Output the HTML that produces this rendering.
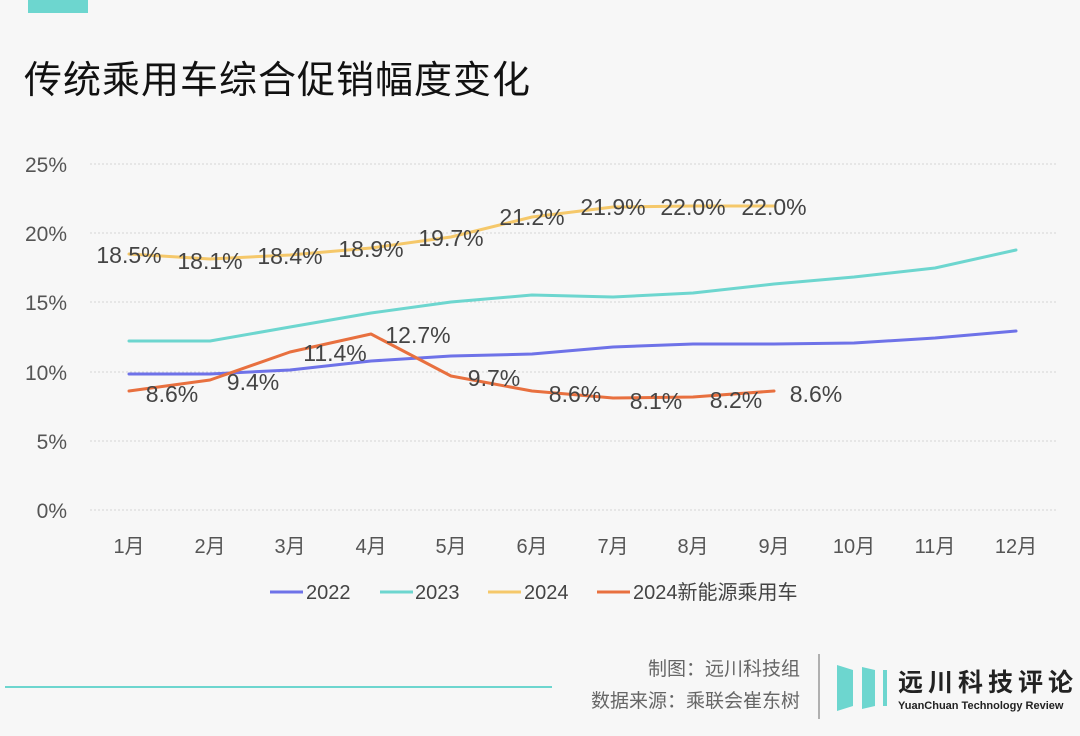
<!DOCTYPE html>
<html><head><meta charset="utf-8"><style>
body{margin:0;background:#f7f7f7;}
svg{display:block;font-family:"Liberation Sans","Noto Sans CJK SC",sans-serif;}
</style></head><body>
<svg width="1080" height="736" viewBox="0 0 1080 736">
<rect width="1080" height="736" fill="#f7f7f7"/>
<rect x="28" y="0" width="60" height="13" fill="#6dd6cf"/>
<text x="24" y="93" font-size="38" fill="#111" letter-spacing="1">传统乘用车综合促销幅度变化</text>
<g stroke="#d6d6d6" stroke-width="1" stroke-dasharray="2,2">
<line x1="90" y1="164" x2="1056" y2="164"/><line x1="90" y1="233" x2="1056" y2="233"/>
<line x1="90" y1="302" x2="1056" y2="302"/><line x1="90" y1="372" x2="1056" y2="372"/>
<line x1="90" y1="441" x2="1056" y2="441"/><line x1="90" y1="510" x2="1056" y2="510"/>
</g>
<g font-size="21" fill="#555" text-anchor="end">
<text x="67" y="172">25%</text><text x="67" y="241">20%</text><text x="67" y="310">15%</text>
<text x="67" y="380">10%</text><text x="67" y="449">5%</text><text x="67" y="518">0%</text>
</g>
<g font-size="20" fill="#555" text-anchor="middle">
<text x="129" y="553">1月</text><text x="210" y="553">2月</text><text x="290" y="553">3月</text>
<text x="371" y="553">4月</text><text x="451" y="553">5月</text><text x="532" y="553">6月</text>
<text x="613" y="553">7月</text><text x="693" y="553">8月</text><text x="774" y="553">9月</text>
<text x="854" y="553">10月</text><text x="935" y="553">11月</text><text x="1016" y="553">12月</text>
</g>
<g fill="none" stroke-width="3" stroke-linejoin="round" stroke-linecap="round">
<polyline stroke="#6e72e8" points="129,374 210,374 290,370 371,361 451,356 532,354 613,347 693,344 774,344 854,343 935,338 1016,331"/>
<polyline stroke="#6dd6cf" points="129,341 210,341 290,327 371,313 451,302 532,295 613,297 693,293 774,284 854,277 935,268 1016,250"/>
<polyline stroke="#f5c86a" points="129,254 210,259 290,255 371,248 451,237 532,217 613,207 693,206 774,206"/>
<polyline stroke="#e8703f" points="129,391 210,380 290,352 371,334 451,376 532,391 613,398 693,397 774,391"/>
</g>
<g font-size="23" fill="#444" text-anchor="middle">
<text x="129" y="263">18.5%</text><text x="210" y="269">18.1%</text><text x="290" y="264">18.4%</text>
<text x="371" y="257">18.9%</text><text x="451" y="246">19.7%</text><text x="532" y="225">21.2%</text>
<text x="613" y="215">21.9%</text><text x="693" y="215">22.0%</text><text x="774" y="215">22.0%</text>
<text x="172" y="402">8.6%</text><text x="253" y="390">9.4%</text><text x="335" y="361">11.4%</text>
<text x="418" y="343">12.7%</text><text x="494" y="386">9.7%</text><text x="575" y="402">8.6%</text>
<text x="656" y="409">8.1%</text><text x="736" y="408">8.2%</text><text x="816" y="402">8.6%</text>
</g>
<g stroke-width="3">
<line x1="270" y1="592" x2="303" y2="592" stroke="#6e72e8"/>
<line x1="380" y1="592" x2="413" y2="592" stroke="#6dd6cf"/>
<line x1="488" y1="592" x2="521" y2="592" stroke="#f5c86a"/>
<line x1="597" y1="592" x2="630" y2="592" stroke="#e8703f"/>
</g>
<g font-size="20" fill="#444">
<text x="306" y="599">2022</text><text x="415" y="599">2023</text><text x="524" y="599">2024</text><text x="633" y="599">2024新能源乘用车</text>
</g>
<line x1="5" y1="687" x2="552" y2="687" stroke="#6dd6cf" stroke-width="2"/>
<g font-size="19" fill="#666" text-anchor="end">
<text x="800" y="675">制图：远川科技组</text>
<text x="800" y="707">数据来源：乘联会崔东树</text>
</g>
<line x1="819" y1="654" x2="819" y2="719" stroke="#999" stroke-width="1.5"/>
<g fill="#6dd6cf">
<polygon points="837,665 853,670 853,706 837,711"/>
<polygon points="862,667 875,670 875,706 862,709"/>
<polygon points="883,670 887,670 887,706 883,706"/>
</g>
<text x="898" y="691" font-size="25" font-weight="bold" fill="#222" letter-spacing="5">远川科技评论</text>
<text x="898" y="709" font-size="11" font-weight="bold" fill="#222">YuanChuan Technology Review</text>
</svg>
</body></html>
